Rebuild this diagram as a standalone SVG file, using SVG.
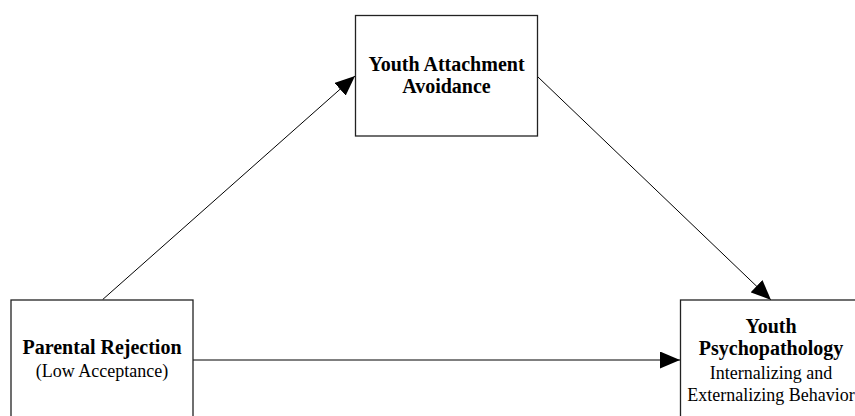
<svg xmlns="http://www.w3.org/2000/svg" width="855" height="416" viewBox="0 0 855 416">
  <style>
    .box { fill: #ffffff; stroke: #222222; stroke-width: 1.3; }
    .edge { fill: none; stroke: #000000; stroke-width: 1; }
    .t { font-family: "Liberation Serif", "Times New Roman", serif; fill: #000000; text-anchor: middle; }
    .b { font-size: 20px; font-weight: bold; }
    .r { font-size: 18px; }
  </style>
  <defs>
    <marker id="head" markerUnits="userSpaceOnUse" markerWidth="20" markerHeight="17" refX="20" refY="8.5" orient="auto">
      <path d="M0,0 L20,8.5 L0,17 z" fill="#000000"/>
    </marker>
  </defs>

  <rect width="855" height="416" fill="#ffffff"/>

  <g id="connectors">
    <line class="edge" x1="102.7" y1="299.5" x2="355" y2="76" marker-end="url(#head)"/>
    <line class="edge" x1="538" y1="77" x2="771" y2="300" marker-end="url(#head)"/>
    <line class="edge" x1="193" y1="360" x2="680" y2="360" marker-end="url(#head)"/>
  </g>

  <g id="node-avoidance">
    <rect class="box" x="355.5" y="15.5" width="182" height="120.5"/>
    <text class="t b" x="446.5" y="71">Youth Attachment</text>
    <text class="t b" x="446.5" y="93">Avoidance</text>
  </g>

  <g id="node-rejection">
    <rect class="box" x="11" y="300" width="182" height="130"/>
    <text class="t b" x="102" y="354">Parental Rejection</text>
    <text class="t r" x="102" y="377">(Low Acceptance)</text>
  </g>

  <g id="node-psychopathology">
    <rect class="box" x="680.5" y="300" width="182" height="130"/>
    <text class="t b" x="771" y="333">Youth</text>
    <text class="t b" x="771" y="355">Psychopathology</text>
    <text class="t r" x="771" y="379">Internalizing and</text>
    <text class="t r" x="771" y="401">Externalizing Behavior</text>
  </g>
</svg>
